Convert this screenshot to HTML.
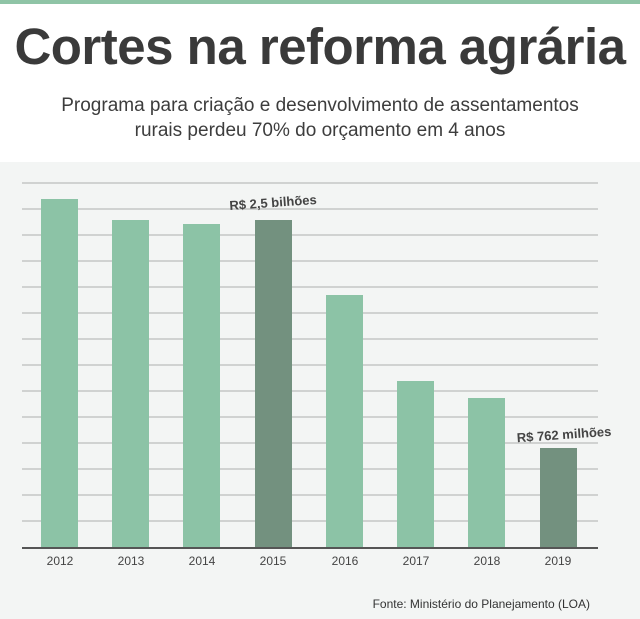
<!DOCTYPE html>
<html><head><meta charset="utf-8"><style>
body{margin:0;width:640px;height:619px;background:#fff;font-family:"Liberation Sans",sans-serif;position:relative;overflow:hidden}
.t{position:absolute;left:0;width:640px;text-align:center}
</style></head><body>
<div style="position:absolute;left:0;top:0;width:640px;height:4px;background:#8fc4a6"></div>
<div class="t" style="top:17px;font-size:51px;font-weight:bold;color:#3a3a3a;letter-spacing:-0.5px">Cortes na reforma agrária</div>
<div class="t" style="top:93px;font-size:19px;line-height:25px;color:#3d3d3d">Programa para criação e desenvolvimento de assentamentos<br>rurais perdeu 70% do orçamento em 4 anos</div>
<svg style="position:absolute;left:0;top:162px" width="640" height="457">
<rect width="640" height="457" fill="#f3f5f4"/>
<g stroke="#c4c6c5" stroke-width="1.5">
<line x1="22" x2="598" y1="21" y2="21"/><line x1="22" x2="598" y1="47" y2="47"/><line x1="22" x2="598" y1="73" y2="73"/><line x1="22" x2="598" y1="99" y2="99"/><line x1="22" x2="598" y1="125" y2="125"/><line x1="22" x2="598" y1="151" y2="151"/><line x1="22" x2="598" y1="177" y2="177"/><line x1="22" x2="598" y1="203" y2="203"/><line x1="22" x2="598" y1="229" y2="229"/><line x1="22" x2="598" y1="255" y2="255"/><line x1="22" x2="598" y1="281" y2="281"/><line x1="22" x2="598" y1="307" y2="307"/><line x1="22" x2="598" y1="333" y2="333"/><line x1="22" x2="598" y1="359" y2="359"/>
</g>
<g fill="#8cc3a6">
<rect x="41" y="37" width="37" height="349"/><rect x="112" y="58" width="37" height="328"/><rect x="183" y="62" width="37" height="324"/><rect x="326" y="133" width="37" height="253"/><rect x="397" y="219" width="37" height="167"/><rect x="468" y="236" width="37" height="150"/>
</g>
<g fill="#73917f"><rect x="255" y="58" width="37" height="328"/><rect x="540" y="286" width="37" height="100"/></g>
<line x1="22" x2="598" y1="386" y2="386" stroke="#555" stroke-width="2"/>
<g font-size="12" fill="#444" text-anchor="middle">
<text x="60" y="403">2012</text><text x="131" y="403">2013</text><text x="202" y="403">2014</text><text x="273" y="403">2015</text><text x="345" y="403">2016</text><text x="416" y="403">2017</text><text x="487" y="403">2018</text><text x="558" y="403">2019</text>
</g>
<text x="273" y="45" font-size="13" font-weight="bold" fill="#444" text-anchor="middle" transform="rotate(-4 273 40)">R$ 2,5 bilhões</text>
<text x="564" y="277" font-size="13" font-weight="bold" fill="#444" text-anchor="middle" transform="rotate(-4 564 272)">R$ 762 milhões</text>
<text x="590" y="446" font-size="12" fill="#333" text-anchor="end">Fonte: Ministério do Planejamento (LOA)</text>
</svg>
</body></html>
